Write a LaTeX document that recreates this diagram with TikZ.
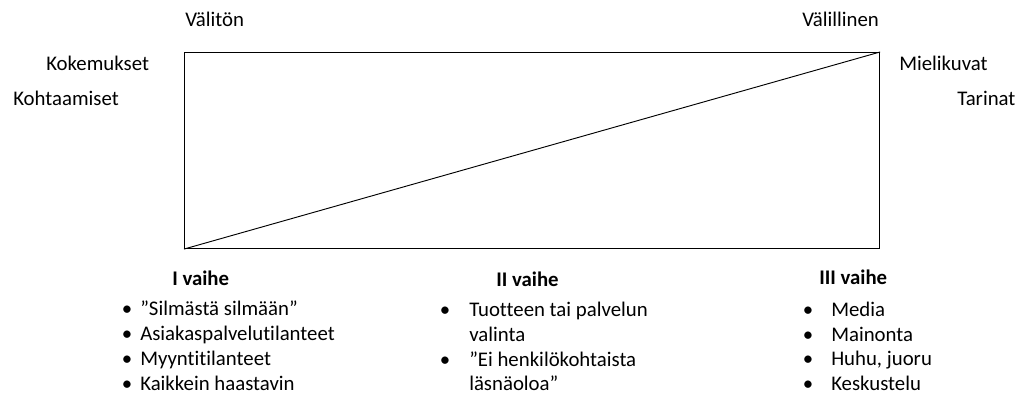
\documentclass[tikz,border=0pt]{standalone}
\usepackage{fontspec}
\setmainfont[Ligatures={NoCommon}]{Carlito}
\begin{document}
\begin{tikzpicture}[x=0.75pt,y=-0.75pt,
  lbl/.style={inner sep=0pt,anchor=base west,font=\fontsize{15.6}{19}\selectfont},
  hdr/.style={lbl,font=\fontsize{15.6}{19}\selectfont\bfseries},
  bul/.style={inner sep=0pt,anchor=base,font=\fontsize{15.6}{19}\selectfont}]
\useasboundingbox (0,0) rectangle (1022,396);
\node[draw,line width=0.8pt,minimum width=695*0.75pt,minimum height=196*0.75pt,inner sep=0pt,anchor=north west] (box) at (184,52) {};
\draw[line width=0.7pt] (box.south west) -- (box.north east);
\node[lbl] (valiton) at (185,26.5) {Välitön};
\node[lbl] (valillinen) at (802,26.5) {Välillinen};
\node[lbl] (kokemukset) at (46,70.5) {Kokemukset};
\node[lbl] (kohtaamiset) at (13,105) {Kohtaamiset};
\node[lbl] (mielikuvat) at (899,70) {Mielikuvat};
\node[lbl] (tarinat) at (957,105) {Tarinat};
% I vaihe
\node[hdr] (h1) at (172,285) {I vaihe};
\node[bul] (b11) at (127,315) {•};
\node[lbl] (t11) at (140,315) {”Silmästä silmään”};
\node[bul] (b12) at (127,340.5) {•};
\node[lbl] (t12) at (140,340.5) {Asiakaspalvelutilanteet};
\node[bul] (b13) at (127,365) {•};
\node[lbl] (t13) at (140,365) {Myyntitilanteet};
\node[bul] (b14) at (127,390) {•};
\node[lbl] (t14) at (140,390) {Kaikkein haastavin};
% II vaihe
\node[hdr] (h2) at (496,286.5) {II vaihe};
\node[bul] (b21) at (445,316.5) {•};
\node[lbl] (t21) at (469,316.5) {Tuotteen tai palvelun};
\node[lbl] (t22) at (469,341) {valinta};
\node[bul] (b22) at (445,366) {•};
\node[lbl] (t23) at (469,366) {”Ei henkilökohtaista};
\node[lbl] (t24) at (469,390) {läsnäoloa”};
% III vaihe
\node[hdr] (h3) at (819,284.5) {III vaihe};
\node[bul] (b31) at (808,316.5) {•};
\node[lbl] (t31) at (831,316.5) {Media};
\node[bul] (b32) at (808,341.5) {•};
\node[lbl] (t32) at (831,341.5) {Mainonta};
\node[bul] (b33) at (808,365.5) {•};
\node[lbl] (t33) at (831,365.5) {Huhu, juoru};
\node[bul] (b34) at (808,390) {•};
\node[lbl] (t34) at (831,390) {Keskustelu};
\end{tikzpicture}
\end{document}
